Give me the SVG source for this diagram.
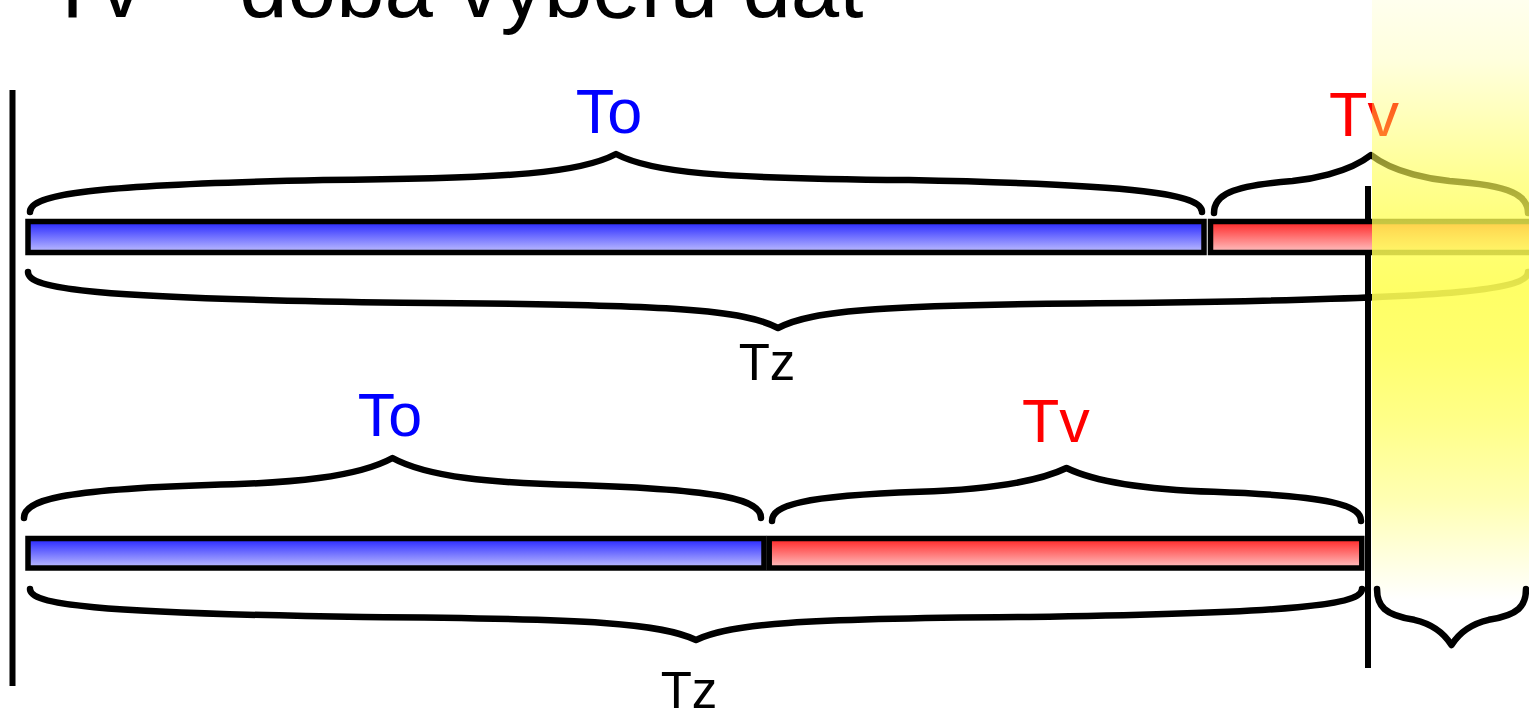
<svg xmlns="http://www.w3.org/2000/svg" width="1529" height="713" viewBox="0 0 1529 713">
<style>
.t{font-family:"Liberation Sans",Arial,sans-serif}
.brace{fill:none;stroke:#000;stroke-width:6.5;stroke-linecap:round;stroke-linejoin:round}
.bar{stroke:#000;stroke-width:5.5}
.ln{stroke:#000;stroke-width:6}
</style>
<defs>
<linearGradient id="gBlue" x1="0" y1="0" x2="0" y2="1">
<stop offset="0" stop-color="#2424ff"/>
<stop offset="1" stop-color="#c0c0ff"/>
</linearGradient>
<linearGradient id="gRed" x1="0" y1="0" x2="0" y2="1">
<stop offset="0" stop-color="#ff2424"/>
<stop offset="1" stop-color="#ffc4c4"/>
</linearGradient>
<linearGradient id="gYel" gradientUnits="userSpaceOnUse" x1="0" y1="0" x2="0" y2="600">
<stop offset="0" stop-color="#ffff55" stop-opacity="0.1"/>
<stop offset="0.1" stop-color="#ffff55" stop-opacity="0.2"/>
<stop offset="0.183" stop-color="#ffff55" stop-opacity="0.38"/>
<stop offset="0.29" stop-color="#ffff55" stop-opacity="0.63"/>
<stop offset="0.383" stop-color="#ffff55" stop-opacity="0.8"/>
<stop offset="0.483" stop-color="#ffff55" stop-opacity="0.9"/>
<stop offset="0.58" stop-color="#ffff55" stop-opacity="0.86"/>
<stop offset="0.7" stop-color="#ffff55" stop-opacity="0.7"/>
<stop offset="0.833" stop-color="#ffff55" stop-opacity="0.45"/>
<stop offset="0.933" stop-color="#ffff55" stop-opacity="0.18"/>
<stop offset="1" stop-color="#ffff55" stop-opacity="0"/>
</linearGradient>
</defs>
<rect width="1529" height="713" fill="#fff"/>

<g id="title">
<text class="t" x="46" y="17" font-size="87" fill="#000">Tv – doba výběru dat</text>
</g>

<g id="timeline-lines">
<line class="ln" x1="12.5" y1="90" x2="12.5" y2="686"/>
<line class="ln" x1="1368" y1="186" x2="1368" y2="668"/>
</g>

<g id="row1">
<g id="row1-to-bar"><rect class="bar" x="28" y="221.5" width="1176" height="31" fill="url(#gBlue)"/></g>
<g id="row1-tv-bar"><rect class="bar" x="1210.5" y="221.5" width="1314.5" height="31" fill="url(#gRed)"/></g>
</g>

<g id="row2">
<g id="row2-to-bar"><rect class="bar" x="28" y="538.5" width="736" height="29.5" fill="url(#gBlue)"/></g>
<g id="row2-tv-bar"><rect class="bar" x="769.2" y="538.5" width="592.6" height="29.5" fill="url(#gRed)"/></g>
</g>

<g id="connectors">
<path class="brace" d="M30,212 C30,194.6 88.6,184.7 323,180.1 C516,178.4 581,172.6 616,154 C651,172.6 716,178.4 909,180.1 C1143.4,184.7 1202,194.6 1202,212"/>
<path class="brace" d="M1214,213 C1214,195.6 1229.7,185.7 1292.5,181.1 C1308.2,179.4 1347.4,173.6 1371,155 C1394.6,173.6 1433.8,179.4 1449.5,181.1 C1512.3,185.7 1528,195.6 1528,213"/>
<path class="brace" d="M28,272 C28,288.8 88,298.3 403,302.8 C678,304.5 743,310.1 778,328 C813,310.1 878,304.5 1153,302.8 C1468,298.3 1528,288.8 1528,272"/>
<path class="brace" d="M24,518 C24,500 60.85,489.8 208.25,485 C292.5,483.2 357.5,477.2 392.5,458 C427.5,477.2 492.5,483.2 576.75,485 C724.15,489.8 761,500 761,518"/>
<path class="brace" d="M772,521 C772,505.1 801.45,496.1 919.25,491.85 C966.5,490.26 1031.5,484.96 1066.5,468 C1101.5,484.96 1166.5,490.26 1213.75,491.85 C1331.55,496.1 1361,505.1 1361,521"/>
<path class="brace" d="M30,589 C30,604.3 90,613 363,617 C596,618.6 661,623.7 696,640 C731,623.7 796,618.6 1029,617 C1302,613 1362,604.3 1362,589"/>
</g>

<g id="labels">
<text class="t" x="609" y="133" font-size="63" fill="#0000ff" text-anchor="middle">To</text>
<text class="t" x="1364" y="136" font-size="63" fill="#ff0000" text-anchor="middle">Tv</text>
<text class="t" x="767" y="380" font-size="51" fill="#000" text-anchor="middle">Tz</text>
<text class="t" x="390" y="436" font-size="61" fill="#0000ff" text-anchor="middle">To</text>
<text class="t" x="1056" y="442" font-size="61" fill="#ff0000" text-anchor="middle">Tv</text>
<text class="t" x="689" y="708" font-size="51" fill="#000" text-anchor="middle">Tz</text>
</g>

<g id="highlight">
<rect x="1372" y="0" width="160" height="600" fill="url(#gYel)"/>
</g>

<g id="future-brace">
<path class="brace" d="M1377,589 C1377,605.8 1384.45,615.3 1414.25,619.8 C1421.7,621.5 1440.3,627.1 1451.5,645 C1462.7,627.1 1481.3,621.5 1488.75,619.8 C1518.55,615.3 1526,605.8 1526,589"/>
</g>
</svg>
